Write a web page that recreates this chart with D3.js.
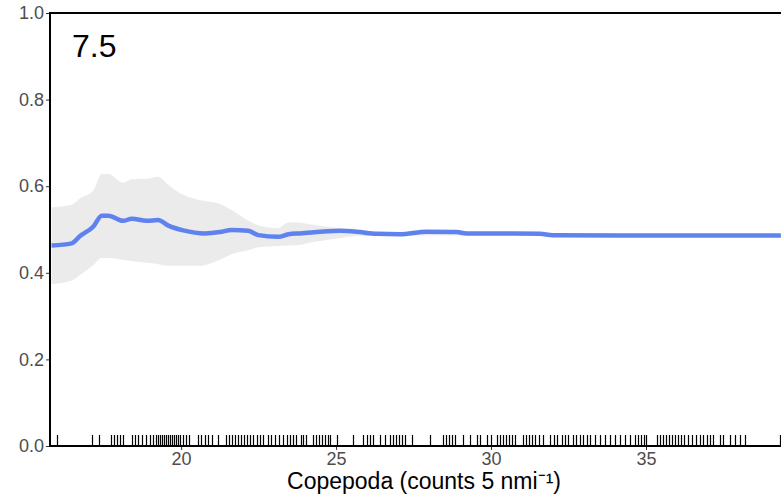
<!DOCTYPE html>
<html>
<head>
<meta charset="utf-8">
<script src="https://cdn.jsdelivr.net/npm/d3@7"></script>
<style>
  body { margin: 0; background: #fff; }
  svg { display: block; font-family: "Liberation Sans", Arial, sans-serif; }
</style>
</head>
<body>
<div id="chart"></div>
<script>
// partial dependence of response on Copepoda
const lineX = [15.82, 16.47, 16.74, 17.17, 17.44, 17.65, 18.13, 18.41, 18.89, 19.26, 19.59, 20.07, 20.77, 21.25, 21.63, 22.17, 22.49, 23.13, 23.46, 23.83, 25.12, 25.66, 26.31, 27.06, 27.92, 28.89, 29.21, 30.71, 31.58, 31.99, 35.12, 39.35]
const lineY = [0.463, 0.468, 0.485, 0.507, 0.532, 0.532, 0.520, 0.525, 0.520, 0.522, 0.509, 0.498, 0.491, 0.494, 0.499, 0.497, 0.487, 0.483, 0.489, 0.491, 0.497, 0.495, 0.490, 0.489, 0.495, 0.494, 0.491, 0.491, 0.490, 0.487, 0.486, 0.486]

const bandX = [15.82, 16.47, 16.74, 17.17, 17.44, 17.65, 18.13, 18.41, 18.89, 19.26, 19.59, 20.07, 20.6, 21.25, 21.63, 22.17, 22.49, 23.13, 23.46, 23.83, 24.05, 25.12, 25.66, 27.06, 31.58, 32.0, 39.35]
const bandHi = [0.551, 0.557, 0.572, 0.590, 0.628, 0.628, 0.608, 0.616, 0.617, 0.622, 0.603, 0.580, 0.568, 0.559, 0.545, 0.520, 0.510, 0.503, 0.516, 0.516, 0.513, 0.503, 0.499, 0.492, 0.492, 0.490, 0.488]
const bandLo = [0.374, 0.382, 0.395, 0.418, 0.434, 0.434, 0.430, 0.427, 0.423, 0.420, 0.416, 0.416, 0.416, 0.430, 0.443, 0.452, 0.459, 0.462, 0.463, 0.464, 0.468, 0.480, 0.485, 0.486, 0.487, 0.484, 0.483]

// observed Copepoda values (rug)
const rug = [16.0, 17.12, 17.35, 17.74, 17.83, 17.93, 18.03, 18.12, 18.42, 18.51, 18.61, 18.74, 18.87,
  19.0, 19.09, 19.19, 19.25, 19.32, 19.38, 19.45, 19.51, 19.58, 19.64, 19.71, 19.77, 19.83, 19.9, 19.96,
  20.06, 20.16, 20.25, 20.54, 20.64, 20.77, 20.87, 21.0, 21.19, 21.45, 21.54, 21.64, 21.74, 21.83, 21.93,
  22.03, 22.12, 22.22, 22.32, 22.45, 22.54, 22.64, 22.8, 22.9, 23.03, 23.16, 23.29, 23.42, 23.51, 23.61,
  23.71, 23.87, 23.93, 24.03, 24.25, 24.35, 24.45, 24.54, 24.64, 24.74, 24.8, 25.03, 25.54, 25.87, 26.0,
  26.09, 26.19, 26.41, 26.58, 26.74, 26.83, 26.93, 27.03, 27.12, 27.22, 27.45, 28.03, 28.45, 28.54, 28.64,
  28.74, 28.83, 29.09, 29.32, 29.54, 29.64, 29.87, 30.0, 30.19, 30.29, 30.38, 30.48, 30.58, 30.67, 30.77,
  31.03, 31.12, 31.22, 31.32, 31.41, 31.54, 31.67, 31.9, 32.03, 32.12, 32.29, 32.38, 32.48, 32.64, 32.74,
  32.87, 32.96, 33.09, 33.19, 33.35, 33.51, 33.67, 33.83, 33.99, 34.16, 34.32, 34.48, 34.64, 34.74, 34.83,
  34.93, 35.0, 35.35, 35.45, 35.54, 35.64, 35.74, 35.83, 35.93, 36.03, 36.12, 36.22, 36.35, 36.48, 36.61,
  36.74, 36.83, 36.96, 37.06, 37.16, 37.38, 37.48, 37.71, 37.87, 38.03, 38.19, 39.32]

const xTicks = [20, 25, 30, 35]
const yTicks = [0, 0.2, 0.4, 0.6, 0.8, 1.0]
const panelLabel = "7.5"

const width = 781, height = 499
const margin = { top: 13, right: -20, bottom: 53, left: 50 }

const svg = d3.select("#chart").append("svg")
  .attr("width", width)
  .attr("height", height)

const x = d3.scaleLinear()
  .domain([15.77, 40])
  .range([margin.left, width - margin.right])

const y = d3.scaleLinear()
  .domain([0, 1])
  .range([height - margin.bottom, margin.top])

svg.append("clipPath").attr("id", "clip")
  .append("rect")
  .attr("x", margin.left).attr("y", margin.top)
  .attr("width", width - margin.left).attr("height", y(0) - margin.top)

const plot = svg.append("g").attr("clip-path", "url(#clip)")

// confidence band
const band = bandX.map((d, i) => ({ x: d, lo: bandLo[i], hi: bandHi[i] }))
plot.append("path")
  .datum(band)
  .attr("fill", "#ebebeb")
  .attr("d", d3.area()
    .x(d => x(d.x))
    .y0(d => y(d.lo))
    .y1(d => y(d.hi))
    .curve(d3.curveMonotoneX))

// fitted line
plot.append("path")
  .datum(lineX.map((d, i) => [d, lineY[i]]))
  .attr("fill", "none")
  .attr("stroke", "#5f82ee")
  .attr("stroke-width", 4.5)
  .attr("stroke-linejoin", "round")
  .attr("d", d3.line()
    .x(d => x(d[0]))
    .y(d => y(d[1]))
    .curve(d3.curveMonotoneX))

// rug
plot.append("g").selectAll("line")
  .data(rug)
  .enter().append("line")
  .attr("x1", d => Math.round(x(d)) + 0.5).attr("x2", d => Math.round(x(d)) + 0.5)
  .attr("y1", y(0) - 11).attr("y2", y(0))
  .attr("stroke", "#000")
  .attr("stroke-width", 1.2)

// axes
const xAxis = svg.append("g")
  .attr("transform", `translate(0,${y(0)})`)
  .attr("font-size", 18)
  .attr("font-family", "'Liberation Sans', Arial, sans-serif")
  .call(d3.axisBottom(x).tickValues(xTicks).tickSize(4).tickPadding(2).tickFormat(d3.format("d")))
xAxis.attr("font-size", 18).attr("font-family", "'Liberation Sans', Arial, sans-serif")
xAxis.select(".domain").remove()
xAxis.selectAll(".tick line").attr("stroke", "#333")
xAxis.selectAll("text").attr("fill", "#4d4d4d")

const yAxis = svg.append("g")
  .attr("transform", `translate(${margin.left},0)`)
  .call(d3.axisLeft(y).tickValues(yTicks).tickSize(4).tickPadding(2).tickFormat(d3.format(".1f")))
yAxis.attr("font-size", 18).attr("font-family", "'Liberation Sans', Arial, sans-serif")
yAxis.select(".domain").remove()
yAxis.selectAll(".tick line").attr("stroke", "#333")
yAxis.selectAll("text").attr("fill", "#4d4d4d")

// frame lines: left, bottom, top
svg.append("line")
  .attr("x1", margin.left).attr("x2", margin.left)
  .attr("y1", margin.top - 1).attr("y2", y(0) + 1)
  .attr("stroke", "#000").attr("stroke-width", 2)
svg.append("line")
  .attr("x1", margin.left).attr("x2", width)
  .attr("y1", y(0)).attr("y2", y(0))
  .attr("stroke", "#000").attr("stroke-width", 2)
svg.append("line")
  .attr("x1", margin.left).attr("x2", width)
  .attr("y1", margin.top).attr("y2", margin.top)
  .attr("stroke", "#000").attr("stroke-width", 2)

// panel label
svg.append("text")
  .attr("x", margin.left + 22)
  .attr("y", 57)
  .style("font-size", "32px")
  .attr("fill", "#000")
  .text(panelLabel)

// axis title
svg.append("text")
  .attr("x", 424)
  .attr("y", 489)
  .attr("text-anchor", "middle")
  .style("font-size", "23px")
  .attr("fill", "#000")
  .text("Copepoda (counts 5 nmi\u207B\u00B9)")
</script>
</body>
</html>
